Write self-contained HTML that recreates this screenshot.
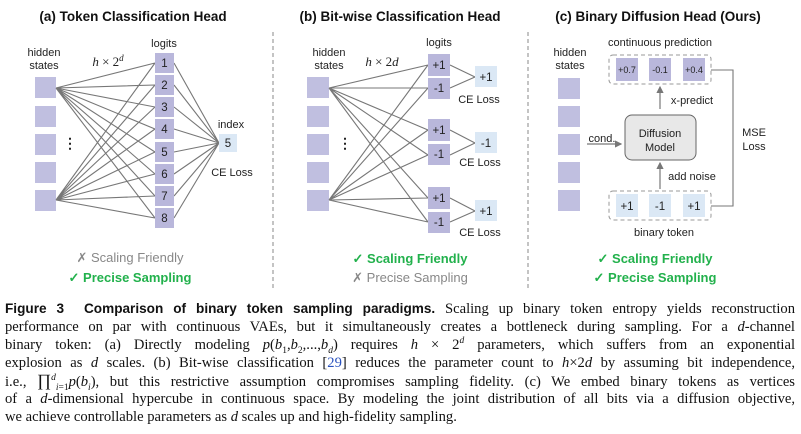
<!DOCTYPE html>
<html><head><meta charset="utf-8"><style>
body{margin:0;background:#fff;width:801px;height:434px;overflow:hidden;position:relative}
svg{position:absolute;left:0;top:0}
.cap{position:absolute;left:5px;top:300px;width:790px;font-family:"Liberation Serif",serif;font-size:14.6px;color:#111;line-height:18px}
.cap div{text-align:justify;text-align-last:justify;white-space:nowrap;height:18px}
.cap div.last{text-align-last:left}
.cap b{font-family:"Liberation Sans",sans-serif;font-weight:bold;font-size:13.6px}
.cap i{font-style:italic}
.cap sub,.cap sup{font-size:9.5px;line-height:0}
.cit{color:#2a52be}
</style></head><body>
<svg width="801" height="290" viewBox="0 0 801 290" font-family="Liberation Sans, sans-serif">
<defs><marker id="ar" markerWidth="6" markerHeight="6" refX="5" refY="3" orient="auto"><path d="M0,0 L6,3 L0,6 z" fill="#777"/></marker></defs>
<g font-weight="bold" font-size="13.5" text-anchor="middle" fill="#111">
<text x="133" y="21">(a) Token Classification Head</text>
<text x="400" y="21">(b) Bit-wise Classification Head</text>
<text x="658" y="21">(c) Binary Diffusion Head (Ours)</text>
</g>
<line x1="273" y1="32" x2="273" y2="288" stroke="#888" stroke-dasharray="4,3"/>
<line x1="528" y1="32" x2="528" y2="288" stroke="#888" stroke-dasharray="4,3"/>
<rect x="625" y="115" width="71" height="45" rx="7" fill="#e8e8e8" stroke="#666"/>
<g font-size="11" fill="#222" text-anchor="middle">
<text x="44" y="56">hidden</text><text x="44" y="69">states</text>
<text x="164" y="47">logits</text>
<text x="108" y="66" font-family="Liberation Serif, serif" font-style="italic" font-size="13">h <tspan font-style="normal">× 2</tspan><tspan dy="-5" font-size="9">d</tspan></text>
<text x="231" y="128">index</text>
<text x="232" y="176">CE Loss</text>
<text x="329" y="56">hidden</text><text x="329" y="69">states</text>
<text x="439" y="46">logits</text>
<text x="382" y="66" font-family="Liberation Serif, serif" font-size="13"><tspan font-style="italic">h</tspan> × 2<tspan font-style="italic">d</tspan></text>
<text x="479" y="103">CE Loss</text><text x="480" y="166">CE Loss</text><text x="480" y="236">CE Loss</text>
<text x="570" y="56">hidden</text><text x="570" y="69">states</text>
<text x="660" y="46">continuous prediction</text>
<text x="692" y="104">x-predict</text>
<text x="660" y="137">Diffusion</text><text x="660" y="151">Model</text>
<text x="602" y="142">cond.</text>
<text x="692" y="180">add noise</text>
<text x="664" y="236">binary token</text>
<text x="754" y="136">MSE</text><text x="754" y="150">Loss</text>
</g>
<g fill="#c0bfe0">
<rect x="35" y="77" width="21" height="21"/><rect x="35" y="106" width="21" height="21"/><rect x="35" y="134" width="21" height="21"/><rect x="35" y="162" width="21" height="21"/><rect x="35" y="190" width="21" height="21"/>
<rect x="307" y="77" width="22" height="21"/><rect x="307" y="106" width="22" height="21"/><rect x="307" y="134" width="22" height="21"/><rect x="307" y="162" width="22" height="21"/><rect x="307" y="190" width="22" height="21"/>
<rect x="558" y="78" width="22" height="21"/><rect x="558" y="106" width="22" height="21"/><rect x="558" y="134" width="22" height="21"/><rect x="558" y="162" width="22" height="21"/><rect x="558" y="190" width="22" height="21"/>
</g>
<g font-size="14" font-weight="bold" fill="#222" text-anchor="middle"><text x="70" y="148">⋮</text><text x="345" y="148">⋮</text></g>
<g stroke="#777" stroke-width="1.1" fill="none">
<path d="M56,88L155,63M56,88L155,85M56,88L155,107M56,88L155,129M56,88L155,152M56,88L155,174M56,88L155,196M56,88L155,218
M56,200L155,63M56,200L155,85M56,200L155,107M56,200L155,129M56,200L155,152M56,200L155,174M56,200L155,196M56,200L155,218
M174,63L219,143M174,85L219,143M174,107L219,143M174,129L219,143M174,152L219,143M174,174L219,143M174,196L219,143M174,218L219,143"/>
<path d="M329,88L428,65M329,88L428,88M329,88L428,130M329,88L428,155M329,88L428,198M329,88L428,222
M329,200L428,65M329,200L428,88M329,200L428,130M329,200L428,155M329,200L428,198M329,200L428,222
M450,65L475,77M450,88L475,77M450,130L475,143M450,155L475,143M450,198L475,211M450,222L475,211"/>
<path d="M711,70H733V206H711"/>
</g>
<g fill="#b9b7db">
<rect x="155" y="53" width="19" height="20"/><rect x="155" y="75" width="19" height="20"/><rect x="155" y="97" width="19" height="20"/><rect x="155" y="119" width="19" height="20"/><rect x="155" y="142" width="19" height="20"/><rect x="155" y="164" width="19" height="20"/><rect x="155" y="186" width="19" height="20"/><rect x="155" y="208" width="19" height="20"/>
<rect x="428" y="54" width="22" height="22"/><rect x="428" y="78" width="22" height="21"/><rect x="428" y="119" width="22" height="22"/><rect x="428" y="144" width="22" height="21"/><rect x="428" y="187" width="22" height="22"/><rect x="428" y="212" width="22" height="21"/>
<rect x="616" y="58" width="22" height="23"/><rect x="649" y="58" width="22" height="23"/><rect x="683" y="58" width="22" height="23"/>
</g>
<g fill="#dbe8f5">
<rect x="219" y="134" width="18" height="18"/>
<rect x="475" y="66" width="22" height="21"/><rect x="475" y="132" width="22" height="21"/><rect x="475" y="200" width="22" height="21"/>
<rect x="616" y="194" width="22" height="23"/><rect x="649" y="194" width="22" height="23"/><rect x="683" y="194" width="22" height="23"/>
</g>
<g font-size="11.5" fill="#222" text-anchor="middle">
<text x="164.5" y="67">1</text><text x="164.5" y="89">2</text><text x="164.5" y="111">3</text><text x="164.5" y="133">4</text><text x="164.5" y="156">5</text><text x="164.5" y="178">6</text><text x="164.5" y="200">7</text><text x="164.5" y="222">8</text>
<text x="228" y="147">5</text>
<text x="439" y="69">+1</text><text x="439" y="92">-1</text><text x="439" y="134">+1</text><text x="439" y="158">-1</text><text x="439" y="202">+1</text><text x="439" y="226">-1</text>
<text x="486" y="81">+1</text><text x="486" y="147">-1</text><text x="486" y="215">+1</text>
<text x="627" y="210">+1</text><text x="660" y="210">-1</text><text x="694" y="210">+1</text>
</g>
<g font-size="9" fill="#222" text-anchor="middle"><text x="627" y="73">+0.7</text><text x="660" y="73">-0.1</text><text x="694" y="73">+0.4</text></g>
<g stroke="#999" fill="none" stroke-dasharray="4,3"><rect x="609" y="55" width="102" height="29" rx="4"/><rect x="609" y="191" width="102" height="29" rx="4"/></g>
<g stroke="#777" stroke-width="1.2" marker-end="url(#ar)"><line x1="660" y1="109" x2="660" y2="87"/><line x1="660" y1="189" x2="660" y2="163"/><line x1="587" y1="144" x2="621" y2="144"/></g>
<g font-size="13" text-anchor="middle">
<text x="130" y="262" fill="#888">✗ Scaling Friendly</text>
<text x="130" y="282" fill="#22b14c" font-weight="bold">✓ Precise Sampling</text>
<text x="410" y="263" fill="#22b14c" font-weight="bold">✓ Scaling Friendly</text>
<text x="410" y="282" fill="#888">✗ Precise Sampling</text>
<text x="655" y="263" fill="#22b14c" font-weight="bold">✓ Scaling Friendly</text>
<text x="655" y="282" fill="#22b14c" font-weight="bold">✓ Precise Sampling</text>
</g>
</svg>
<div class="cap">
<div><b>Figure 3&nbsp; Comparison of binary token sampling paradigms.</b> Scaling up binary token entropy yields reconstruction</div>
<div>performance on par with continuous VAEs, but it simultaneously creates a bottleneck during sampling. For a <i>d</i>-channel</div>
<div>binary token: (a) Directly modeling <i>p</i>(<i>b</i><sub>1</sub>,<i>b</i><sub>2</sub>,...,<i>b<sub>d</sub></i>) requires <i>h</i> × 2<sup><i>d</i></sup> parameters, which suffers from an exponential</div>
<div>explosion as <i>d</i> scales. (b) Bit-wise classification [<span class="cit">29</span>] reduces the parameter count to <i>h</i>×2<i>d</i> by assuming bit independence,</div>
<div>i.e., <span style="font-size:17px">∏</span><sup><i>d</i></sup><sub><i>i</i>=1</sub><i>p</i>(<i>b<sub>i</sub></i>), but this restrictive assumption compromises sampling fidelity. (c) We embed binary tokens as vertices</div>
<div>of a <i>d</i>-dimensional hypercube in continuous space. By modeling the joint distribution of all bits via a diffusion objective,</div>
<div class="last">we achieve controllable parameters as <i>d</i> scales up and high-fidelity sampling.</div>
</div>
</body></html>
